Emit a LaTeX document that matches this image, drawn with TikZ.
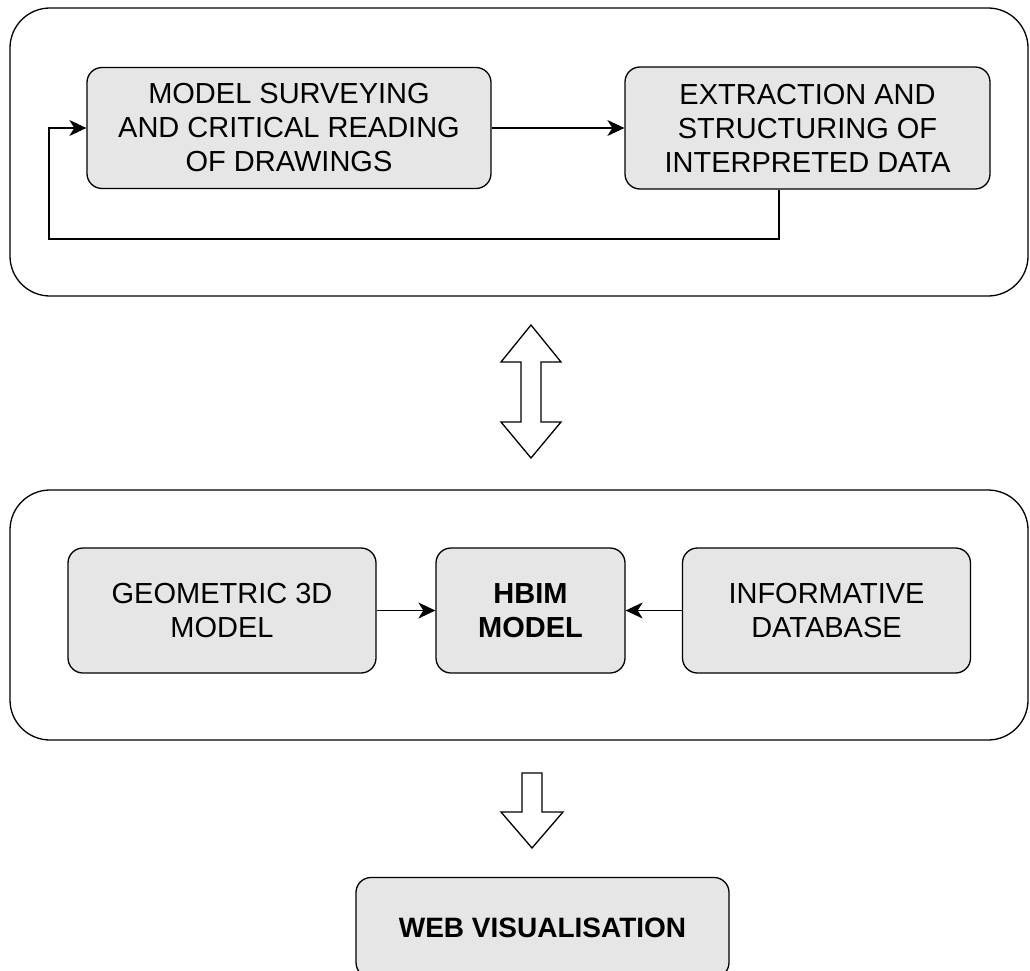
\documentclass[tikz,border=0pt]{standalone}
\usepackage{fontspec}
\setmainfont{Liberation Sans}
\usetikzlibrary{arrows.meta}
\definecolor{boxfill}{HTML}{E6E6E6}
\begin{document}
\begin{tikzpicture}[x=1pt,y=-1pt,
  panel/.style={draw, line width=1.3pt, rounded corners=40pt, inner sep=0pt},
  stepbox/.style={draw, fill=boxfill, line width=1.3pt, rounded corners=15pt,
    inner sep=0pt, align=center, font=\fontsize{29}{34}\selectfont},
  flow/.style={line width=1.3pt, -{Stealth[length=17pt,width=16pt,inset=5pt]}},
  blockarrow/.style={draw, fill=white, line width=1.3pt, line join=miter}]
\useasboundingbox (0,0) rectangle (1030,971);

% upper panel: surveying loop
\node[panel, minimum width=1018pt, minimum height=288pt] (toppanel) at (519,152) {};
\node[stepbox, minimum width=404pt, minimum height=121pt] (survey) at (289,128)
  {MODEL SURVEYING\\AND CRITICAL READING\\OF DRAWINGS};
\node[stepbox, minimum width=365pt, minimum height=122pt] (extract) at (807.5,128)
  {EXTRACTION AND\\STRUCTURING OF\\INTERPRETED DATA};
\draw[flow] (survey) -- (extract);
\coordinate (loopA) at (779,239);
\coordinate (loopB) at (49,239);
\draw[flow] (extract.south -| loopA) -- (loopA) -- (loopB) |- (survey.west);

% two-way exchange between the panels
\draw[blockarrow] (531,325) -- (561,362) -- (541,362) -- (541,422) -- (561,422)
  -- (531,458) -- (501,422) -- (521,422) -- (521,362) -- (501,362) -- cycle;

% lower panel: model assembly
\node[panel, minimum width=1018pt, minimum height=250pt] (midpanel) at (519,615) {};
\node[stepbox, minimum width=308pt, minimum height=125pt] (geom) at (222,610.5)
  {GEOMETRIC 3D\\MODEL};
\node[stepbox, minimum width=189pt, minimum height=125pt, font=\fontsize{29}{34}\selectfont\bfseries] (hbim) at (530.5,610.5)
  {HBIM\\MODEL};
\node[stepbox, minimum width=288pt, minimum height=125pt] (info) at (826.5,610.5)
  {INFORMATIVE\\DATABASE};
\draw[flow] (geom) -- (hbim);
\draw[flow] (info) -- (hbim);

% output
\draw[blockarrow] (522,773) -- (542,773) -- (542,812) -- (563,812) -- (532,848)
  -- (501,812) -- (522,812) -- cycle;
\node[stepbox, minimum width=373pt, minimum height=100pt, font=\fontsize{28}{34}\selectfont\bfseries] (web) at (542.5,927.5)
  {WEB VISUALISATION};
\end{tikzpicture}
\end{document}
